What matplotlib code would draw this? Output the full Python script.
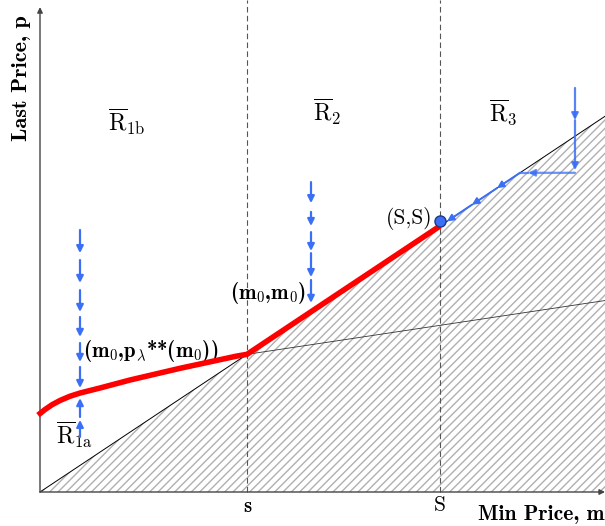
import numpy as np
import matplotlib
matplotlib.use('Agg')
import matplotlib.pyplot as plt

plt.rcParams['mathtext.fontset'] = 'cm'
plt.rcParams['axes.unicode_minus'] = False
plt.rcParams['hatch.color'] = '#b0b0b0'
plt.rcParams['hatch.linewidth'] = 1.0

# thresholds and extent of the plot
s = 0.5175
S = 1.0
m_max = 1.4125
p_max = 1.823

# red curve (optimal last price)
red_m = [-0.005, 0.0125, 0.03, 0.05, 0.075, 0.1, 0.15, 0.225, 0.35, 0.492, s, S]
red_p = [0.289, 0.310, 0.328, 0.344, 0.360, 0.372, 0.391, 0.421, 0.465, 0.511, s, S]

# second thin line starting at (s, s)
line2_slope = 0.226

# blue arrow chains: (start p, end p)
left_down = [(0.985, 0.898), (0.872, 0.786), (0.759, 0.677), (0.658, 0.583), (0.560, 0.489), (0.470, 0.391)]
left_up = [(0.207, 0.271), (0.282, 0.353)]
mid_down = [(1.165, 1.086), (1.053, 1.000), (0.977, 0.906), (0.898, 0.808), (0.797, 0.711)]
m_left = 0.1
m_mid = 0.6775
m_r3 = 1.3375
r3_top = 1.519
r3_mid = 1.398
r3_level = 1.2
diag_heads = [1.2, 1.1425, 1.08, 1.0175]

blue = '#3b6ff5'

fig = plt.figure(figsize=(6.05, 5.26), dpi=100)
ax = fig.add_axes([0, 0, 1, 1])
ax.set_xlim(-0.1, 1.4125)
ax.set_ylim(-34 / 266, 492 / 266)
ax.axis('off')

# hatched region below the diagonal
xs = np.array([0, m_max])
ax.fill_between(xs, 0, xs, facecolor='white', hatch='////', linewidth=0, zorder=1)
ax.plot(xs, xs, color='black', lw=0.7, zorder=2)
ax.plot([s, m_max], [s, s + line2_slope * (m_max - s)], color='#333333', lw=0.6, zorder=2)

# dashed verticals
for xv in [s, S]:
    ax.plot([xv, xv], [0, 492 / 266], color='#555555', lw=0.8, ls=(0, (5, 3)), zorder=2)

# axes with arrows
ax.annotate('', xy=(m_max, 0), xytext=(0, 0),
            arrowprops=dict(arrowstyle='-|>', color='#444444', lw=1.0, mutation_scale=8, shrinkA=0, shrinkB=0))
ax.annotate('', xy=(0, p_max), xytext=(0, 0),
            arrowprops=dict(arrowstyle='-|>', color='#444444', lw=1.0, mutation_scale=8, shrinkA=0, shrinkB=0))

# red curve
ax.plot(red_m, red_p, color='red', lw=4, solid_capstyle='butt', solid_joinstyle='round', zorder=5, clip_on=False)

def arrow(x0, y0, x1, y1, alpha=1.0, lw=1.6):
    ax.annotate('', xy=(x1, y1), xytext=(x0, y0),
                arrowprops=dict(arrowstyle='-|>', color=blue, lw=lw, alpha=alpha,
                                mutation_scale=10, shrinkA=0, shrinkB=0), zorder=6)

for a, b in left_down:
    arrow(m_left, a, m_left, b)
for a, b in left_up:
    arrow(m_left, a, m_left, b)
for a, b in mid_down:
    arrow(m_mid, a, m_mid, b)

# R3 path: down, left, then along the diagonal
arrow(m_r3, r3_top, m_r3, r3_mid, alpha=0.85)
arrow(m_r3, r3_mid, m_r3, r3_level + 0.01, alpha=0.85)
arrow(m_r3, r3_level, diag_heads[0] + 0.02, r3_level, alpha=0.75)
ax.plot([diag_heads[0] + 0.02, diag_heads[0]], [r3_level, r3_level], color=blue, lw=1.6, alpha=0.75)
for a, b in zip(diag_heads[:-1], diag_heads[1:]):
    arrow(a, a, b, b, lw=1.4)

ax.plot([S], [S + 0.02], 'o', color=blue, markeredgecolor='#1a3a8a', markersize=8, zorder=7)

# text labels
def px(x):
    return x / 400 - 0.1

def py(y):
    return (492 - y) / 266

ax.text(px(127), py(122), r'$\overline{\mathrm{R}}_{1\mathrm{b}}$', fontsize=17, ha='center', va='center')
ax.text(px(327), py(112), r'$\overline{\mathrm{R}}_{2}$', fontsize=17, ha='center', va='center')
ax.text(px(503), py(113), r'$\overline{\mathrm{R}}_{3}$', fontsize=17, ha='center', va='center')
ax.text(px(74), py(435), r'$\overline{\mathrm{R}}_{1\mathrm{a}}$', fontsize=17, ha='center', va='center')

bold = dict(family='cmb10')
reg = dict(family='cmr10')
ax.text(px(83), py(351), r'(m$_\mathbf{0}$,p$_\lambda$**(m$_\mathbf{0}$))', fontsize=15, ha='left', va='center', **bold)
ax.text(px(268), py(293), r'(m$_\mathbf{0}$,m$_\mathbf{0}$)', fontsize=15, ha='center', va='center', **bold)
ax.text(px(433), py(218), '(S,S)', fontsize=15.5, ha='right', va='center', **reg)

ax.text(s, py(507), 's', fontsize=15, ha='center', va='center', **bold)
ax.text(S, py(505), 'S', fontsize=15.5, ha='center', va='center', **reg)
ax.text(px(605), py(515), 'Min Price, m', fontsize=15.5, ha='right', va='center', **bold)
ax.text(px(22), py(78), 'Last Price, p', fontsize=16, ha='center', va='center', rotation=90, **bold)

fig.savefig('out.png', dpi=100)
